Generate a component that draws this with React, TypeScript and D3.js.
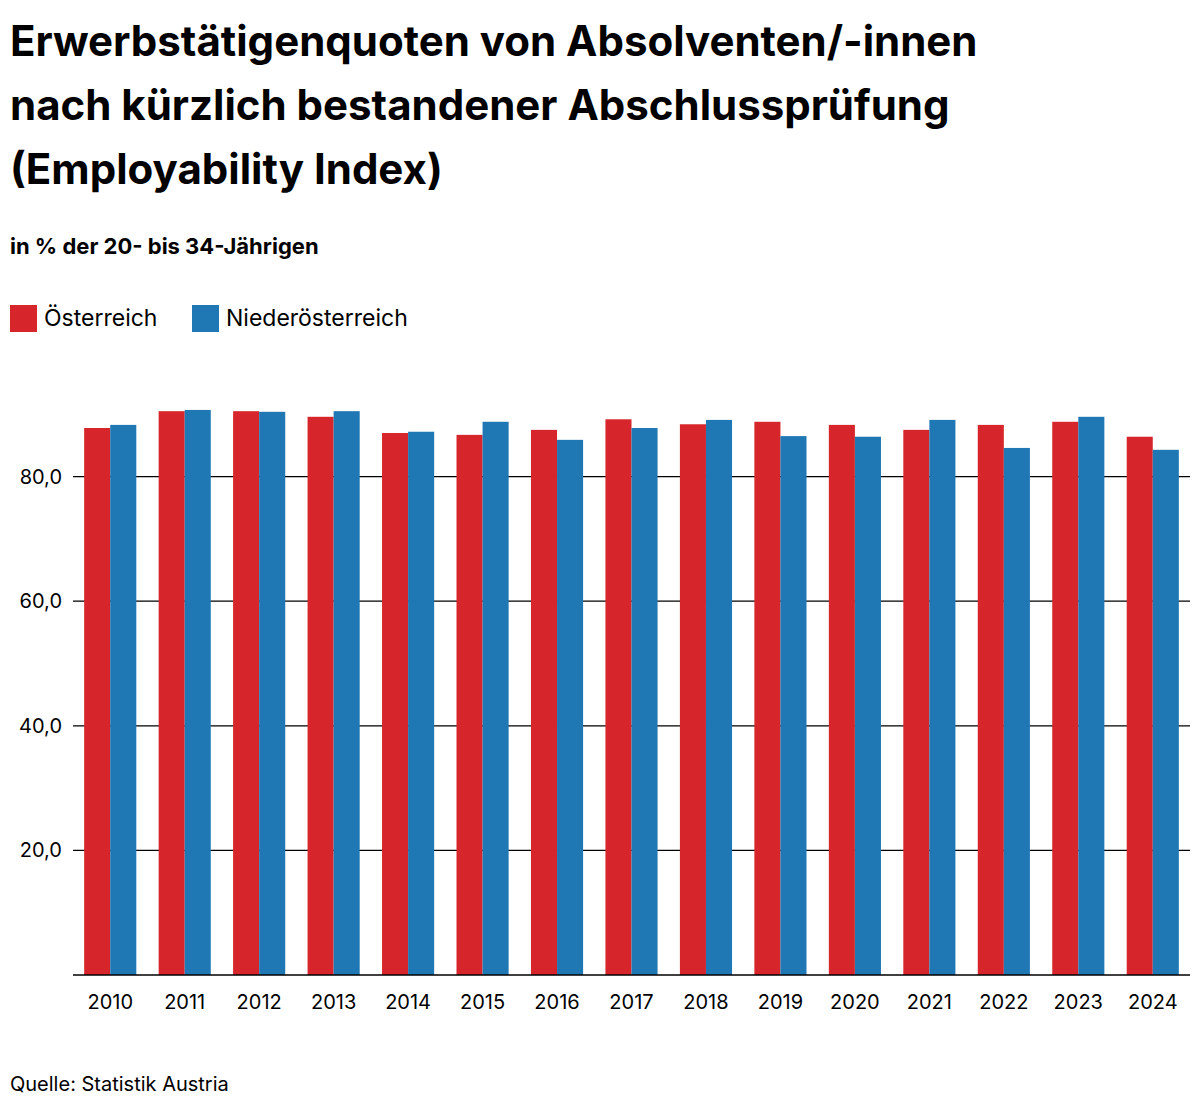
import React from "react";
import * as d3 from "d3";

const years = ["2010","2011","2012","2013","2014","2015","2016","2017","2018","2019","2020","2021","2022","2023","2024"];
const oesterreich = [87.8,90.5,90.5,89.6,87.0,86.7,87.5,89.2,88.4,88.8,88.3,87.5,88.3,88.8,86.4];
const niederoesterreich = [88.3,90.7,90.4,90.5,87.2,88.8,85.9,87.8,89.1,86.5,86.4,89.1,84.6,89.6,84.3];
const yTicks = [20,40,60,80];
const seriesNames = ["Österreich","Niederösterreich"];
const colors = ["#d7262b","#1f77b4"];

export default function App() {
  const W = 1200, H = 1112;
  const left = 73, right = 1190, top = 352, bottom = 975;
  const x = d3.scaleBand().domain(years).range([left, right]).paddingInner(0.3).paddingOuter(0.15);
  const y = d3.scaleLinear().domain([0, 100]).range([bottom, bottom - 623]);
  const bw = x.bandwidth() / 2;
  const font = "Inter, 'Noto Sans', sans-serif";
  return (
    <svg width={W} height={H} style={{ position: "absolute", left: 0, top: 0 }} fontFamily={font}>
      <g fontWeight={700} fontSize={42} fill="#000">
        <text x={10} y={56}>Erwerbstätigenquoten von Absolventen/-innen</text>
        <text x={10} y={120}>nach kürzlich bestandener Abschlussprüfung</text>
        <text x={10} y={184}>(Employability Index)</text>
      </g>
      <text x={10} y={254} fontSize={22} fontWeight={700}>in % der 20- bis 34-Jährigen</text>
      <g fontSize={23}>
        <rect x={10} y={305} width={27} height={27} fill={colors[0]} />
        <text x={44} y={326}>{seriesNames[0]}</text>
        <rect x={192} y={305} width={27} height={27} fill={colors[1]} />
        <text x={226} y={326}>{seriesNames[1]}</text>
      </g>
      {yTicks.map(t => (
        <g key={t}>
          <line x1={left} x2={right} y1={y(t)} y2={y(t)} stroke="#000" strokeWidth={1.3} />
          <text x={62} y={y(t) + 7} textAnchor="end" fontSize={20}>{t.toFixed(1).replace(".", ",")}</text>
        </g>
      ))}
      {years.map((yr, i) => (
        <g key={yr}>
          <rect x={x(yr)!} y={y(oesterreich[i])} width={bw} height={bottom - y(oesterreich[i])} fill={colors[0]} />
          <rect x={x(yr)! + bw} y={y(niederoesterreich[i])} width={bw} height={bottom - y(niederoesterreich[i])} fill={colors[1]} />
          <text x={x(yr)! + bw} y={1009} textAnchor="middle" fontSize={20}>{yr}</text>
        </g>
      ))}
      <line x1={left} x2={right} y1={bottom} y2={bottom} stroke="#000" strokeWidth={1.5} />
      <text x={10} y={1091} fontSize={20}>Quelle: Statistik Austria</text>
    </svg>
  );
}
